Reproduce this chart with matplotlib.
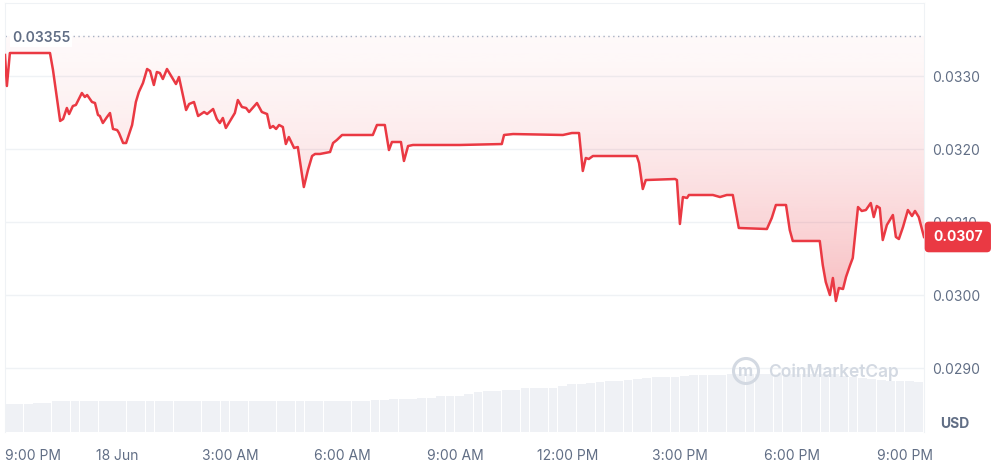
import math
import numpy as np
import matplotlib
matplotlib.use('Agg')
import matplotlib.pyplot as plt
from matplotlib.patches import Ellipse
from matplotlib.colors import to_rgb

plt.rcParams['font.family'] = ['Inter', 'DejaVu Sans']

# hours since 9:00 PM, 17 Jun
hours = [0.00, 0.05, 0.13, 1.20, 1.28, 1.47, 1.55, 1.65, 1.71, 1.81, 1.89, 2.05, 2.13, 2.19,
         2.32, 2.40, 2.48, 2.53, 2.61, 2.72, 2.80, 2.88, 2.99, 3.04, 3.15, 3.23, 3.39, 3.49,
         3.57, 3.68, 3.79, 3.87, 3.97, 4.05, 4.13, 4.21, 4.32, 4.45, 4.56, 4.64, 4.83, 4.91,
         5.04, 5.15, 5.31, 5.39, 5.55, 5.65, 5.73, 5.81, 5.89, 6.05, 6.13, 6.21, 6.32, 6.43,
         6.51, 6.72, 6.85, 6.99, 7.07, 7.15, 7.23, 7.31, 7.41, 7.49, 7.57, 7.71, 7.81, 7.97,
         8.08, 8.19, 8.27, 8.40, 8.67, 8.75, 8.85, 8.99, 9.81, 9.92, 10.13, 10.24, 10.32, 10.56,
         10.64, 10.75, 10.88, 12.13, 13.25, 13.31, 13.55, 14.88, 15.12, 15.31, 15.41, 15.49,
         15.57, 15.68, 16.85, 16.91, 17.01, 17.09, 17.87, 17.92, 18.00, 18.08, 18.19, 18.24,
         18.88, 19.07, 19.25, 19.41, 19.57, 20.32, 20.45, 20.56, 20.83, 20.93, 21.01, 21.73,
         21.81, 21.89, 22.00, 22.08, 22.16, 22.24, 22.35, 22.43, 22.53, 22.61, 22.75, 22.85,
         22.96, 23.09, 23.17, 23.25, 23.33, 23.41, 23.52, 23.68, 23.76, 23.84, 23.95, 24.08,
         24.19, 24.27, 24.37, 24.51]

price = [0.033288, 0.032863, 0.033315, 0.033315, 0.033082, 0.032384, 0.032411, 0.032562,
         0.032479, 0.032589, 0.032603, 0.032767, 0.032712, 0.032740, 0.032644, 0.032630,
         0.032466, 0.032452, 0.032356, 0.032438, 0.032493, 0.032274, 0.032260, 0.032219,
         0.032082, 0.032082, 0.032329, 0.032644, 0.032781, 0.032904, 0.033096, 0.033068,
         0.032877, 0.033055, 0.033041, 0.032959, 0.033096, 0.032986, 0.032890, 0.032986,
         0.032534, 0.032616, 0.032644, 0.032452, 0.032507, 0.032479, 0.032548, 0.032411,
         0.032356, 0.032425, 0.032288, 0.032425, 0.032493, 0.032671, 0.032575, 0.032562,
         0.032507, 0.032630, 0.032507, 0.032479, 0.032288, 0.032315, 0.032274, 0.032329,
         0.032301, 0.032068, 0.032164, 0.032014, 0.032027, 0.031479, 0.031712, 0.031904,
         0.031932, 0.031932, 0.031959, 0.032082, 0.032123, 0.032192, 0.032192, 0.032329,
         0.032329, 0.031986, 0.032096, 0.032096, 0.031836, 0.032041, 0.032055, 0.032055,
         0.032068, 0.032192, 0.032205, 0.032192, 0.032219, 0.032219, 0.031699, 0.031877,
         0.031863, 0.031904, 0.031904, 0.031808, 0.031452, 0.031575, 0.031589, 0.031575,
         0.030973, 0.031342, 0.031329, 0.031370, 0.031370, 0.031342, 0.031370, 0.031370,
         0.030918, 0.030904, 0.031055, 0.031233, 0.031233, 0.030890, 0.030740, 0.030740,
         0.030411, 0.030178, 0.030000, 0.030233, 0.029918, 0.030096, 0.030082, 0.030247,
         0.030397, 0.030507, 0.031205, 0.031151, 0.031164, 0.031260, 0.031068, 0.031219,
         0.031192, 0.030753, 0.030959, 0.031096, 0.030795, 0.030767, 0.030931, 0.031164,
         0.031082, 0.031151, 0.031068, 0.030795]

# volume, one bar per 15 minutes
volume = [2.80, 2.80, 2.81, 2.90, 2.91,
          3.07, 3.07, 3.07, 3.07, 3.07, 3.07, 3.07, 3.07, 3.07, 3.07, 3.07, 3.07,
          3.07, 3.07, 3.07, 3.07, 3.07, 3.07, 3.07, 3.07, 3.07, 3.07, 3.07, 3.07,
          3.07, 3.07, 3.07, 3.07, 3.07, 3.07, 3.07, 3.07, 3.07, 3.07,
          3.17, 3.17, 3.30, 3.30, 3.31, 3.43, 3.43, 3.63, 3.63, 3.64, 3.80, 3.97,
          4.13, 4.13, 4.20, 4.20, 4.40, 4.40, 4.41, 4.42, 4.60, 4.80, 4.80, 4.90,
          5.00, 5.13, 5.13, 5.20, 5.30, 5.40, 5.47, 5.50, 5.55, 5.65, 5.70, 5.70,
          5.72, 5.75, 5.77, 5.80, 5.80, 5.80, 5.80, 5.80, 5.80, 5.80, 5.80, 5.80,
          5.80, 5.80, 5.60, 5.53, 5.45, 5.30, 5.20, 5.13, 5.13, 5.10, 5.05, 4.90]

price_high = 0.03355
tick_hours = [0, 3, 6, 9, 12, 15, 18, 21, 24]
tick_labels = ['9:00 PM', '18 Jun', '3:00 AM', '6:00 AM', '9:00 AM',
               '12:00 PM', '3:00 PM', '6:00 PM', '9:00 PM']
price_ticks = [0.0290, 0.0300, 0.0310, 0.0320, 0.0330]

RED = '#ea3943'
GREY = '#616e85'
GRID = '#eff2f5'

fig = plt.figure(figsize=(9.91, 4.62), dpi=100)
rect = [5 / 991, 1 - 432 / 462, 919 / 991, 429 / 462]

# volume bars in the back
ax_vol = fig.add_axes(rect)
bar_x = np.arange(len(volume)) * 0.25
ax_vol.bar(bar_x, volume, width=0.235, align='edge', color='#eff1f5', linewidth=0)
ax_vol.set_xlim(0, hours[-1])
ax_vol.set_ylim(0, 42.9)
ax_vol.axis('off')

ax = fig.add_axes(rect)
ax.patch.set_alpha(0)

# gradient fill above the line
n = 256
t = np.linspace(0, 1, n)[:, None]
rgba = np.zeros((n, 1, 4))
rgba[..., :3] = to_rgb(RED)
rgba[..., 3] = 0.03 + 0.30 * t ** 1.5
img = ax.imshow(rgba, extent=[0, hours[-1], min(price), price_high], aspect='auto',
                origin='upper', interpolation='bilinear', zorder=1)
poly = ax.fill_between(hours, price, price_high, facecolor='none', edgecolor='none')
img.set_clip_path(poly.get_paths()[0], transform=ax.transData)

ax.plot(hours, price, color=RED, lw=1.8, zorder=3, solid_joinstyle='round')

ax.axhline(price_high, color='#a6b0c3', lw=1, ls=(0, (1, 2.5)), zorder=2)
ax.annotate(f'{price_high:.5f}', xy=(0, price_high), xycoords=('axes fraction', 'data'),
            xytext=(7, -2), textcoords='offset pixels', ha='left', va='center',
            color=GREY, fontsize=10, fontweight='semibold', zorder=4,
            bbox=dict(boxstyle='square,pad=0.15', fc='white', ec='none'))

ax.set_xlim(0, hours[-1])
ax.set_ylim(0.0281233, 0.0340)
ax.set_yticks(price_ticks, [f'{v:.4f}' for v in price_ticks])
ax.yaxis.tick_right()
ax.grid(axis='y', color=GRID, lw=1)
ax.set_axisbelow(True)
ax.tick_params(axis='y', length=0, pad=6, labelcolor=GREY, labelsize=10)
ax.set_xticks(tick_hours, tick_labels)
ax.tick_params(axis='x', length=0, pad=12, labelcolor=GREY, labelsize=10)
ax.get_xticklabels()[0].set_ha('left')
for side in ['top', 'left', 'right']:
    ax.spines[side].set_color(GRID)
ax.spines['bottom'].set_visible(False)

# current price tag
last = math.floor(price[-1] * 1e4) / 1e4
ax.annotate(f'{last:.4f}', xy=(1, price[-1]), xycoords=('axes fraction', 'data'),
            xytext=(9, 0), textcoords='offset pixels', ha='left', va='center',
            color='white', fontsize=10, fontweight='bold', zorder=6, annotation_clip=False,
            bbox=dict(boxstyle='round,pad=0.6,rounding_size=0.3', fc=RED, ec='none'))

fig.text(955 / 991, 1 - 424 / 462, 'USD', ha='center', va='center',
         color=GREY, fontsize=10, fontweight='bold')

# watermark
fig.add_artist(Ellipse((746 / 991, 1 - 371 / 462), 25 / 991, 25 / 462,
                       transform=fig.transFigure, fill=False, ec='#d3d9e2', lw=2.2))
fig.text(746 / 991, 1 - 372 / 462, 'm', ha='center', va='center', color='#d3d9e2',
         fontsize=12, fontweight='bold')
fig.text(768 / 991, 1 - 372 / 462, 'CoinMarketCap', ha='left', va='center',
         color='#d3d9e2', fontsize=12.5, fontweight='semibold')

fig.savefig('out.png', dpi=100)
